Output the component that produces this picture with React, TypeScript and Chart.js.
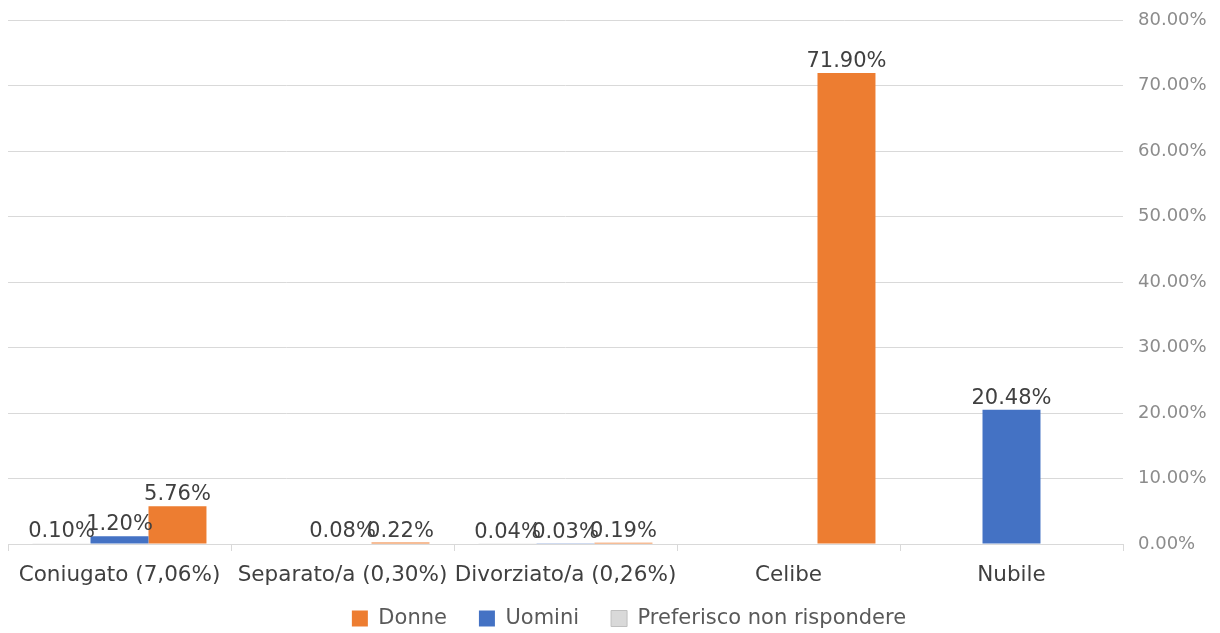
import React, { useEffect, useRef } from 'react';
import { Chart, registerables } from 'chart.js';

Chart.register(...registerables);

const categories = ['Coniugato (7,06%)', 'Separato/a (0,30%)', 'Divorziato/a (0,26%)', 'Celibe', 'Nubile'];
const preferiscoValues: (number | null)[] = [0.1, null, 0.04, null, null];
const uominiValues: (number | null)[] = [1.2, 0.08, 0.03, null, 20.48];
const donneValues: (number | null)[] = [5.76, 0.22, 0.19, 71.9, null];
const yMin = 0;
const yMax = 80;
const yStep = 10;

const FONT = '"DejaVu Sans"';

const valueLabels = {
  id: 'valueLabels',
  afterDatasetsDraw(chart: any) {
    const ctx = chart.ctx;
    ctx.save();
    ctx.font = `21px ${FONT}`;
    ctx.fillStyle = '#404040';
    ctx.textAlign = 'center';
    ctx.textBaseline = 'alphabetic';
    chart.data.datasets.forEach((ds: any, i: number) => {
      const meta = chart.getDatasetMeta(i);
      meta.data.forEach((el: any, j: number) => {
        const v = ds.data[j];
        if (v === null || v === undefined) return;
        ctx.fillText(v.toFixed(2) + '%', el.x, el.y - 6);
      });
    });
    ctx.restore();
  },
};

// let the category labels extend into the (empty) upper part of the legend box
const labelRoom = {
  id: 'labelRoom',
  afterLayout(chart: any) {
    const x = chart.scales.x;
    if (x) x.bottom = chart.height;
  },
};

export default function App() {
  const ref = useRef<HTMLCanvasElement | null>(null);

  useEffect(() => {
    if (!ref.current) return;
    const chart = new Chart(ref.current, {
      type: 'bar',
      data: {
        labels: categories,
        datasets: [
          { label: 'Preferisco non rispondere', data: preferiscoValues, backgroundColor: '#D9D9D9', borderWidth: 0 },
          { label: 'Uomini', data: uominiValues, backgroundColor: '#4472C4', borderWidth: 0 },
          { label: 'Donne', data: donneValues, backgroundColor: '#ED7D31', borderWidth: 0 },
        ],
      },
      options: {
        responsive: false,
        animation: false,
        datasets: { bar: { categoryPercentage: 0.78, barPercentage: 1 } },
        layout: { padding: { left: 8, right: -30, top: 20, bottom: -6 } },
        plugins: {
          tooltip: { enabled: false },
          legend: {
            position: 'bottom',
            reverse: true,
            labels: {
              font: { family: FONT, size: 21 },
              color: '#595959',
              boxWidth: 16,
              boxHeight: 16,
              padding: 32,
              generateLabels: (c: any) => {
                const items = (Chart as any).defaults.plugins.legend.labels.generateLabels(c);
                return items.map((it: any) =>
                  it.text.startsWith('Preferisco') ? { ...it, strokeStyle: '#BFBFBF', lineWidth: 1 } : it
                );
              },
            },
          },
        },
        scales: {
          x: {
            offset: true,
            grid: { display: true, drawOnChartArea: false, drawTicks: true, tickLength: 7, color: '#D9D9D9', offset: true },
            border: { display: true, color: '#D9D9D9' },
            ticks: { font: { family: FONT, size: 21.5 }, color: '#404040', padding: 12, maxRotation: 0, autoSkip: false },
            afterFit: (s: any) => { s.height = 32; },
          },
          y: {
            position: 'right',
            min: yMin,
            max: yMax,
            ticks: {
              stepSize: yStep,
              font: { family: FONT, size: 18 },
              color: '#8C8C8C',
              padding: 15,
              callback: (v: any) => Number(v).toFixed(2) + '%',
            },
            grid: { color: '#D9D9D9', drawTicks: false },
            border: { display: false },
            afterFit: (s: any) => { s.width = 127; s.paddingTop = 0; s.paddingBottom = 0; },
          },
        },
      },
      plugins: [valueLabels, labelRoom],
    });
    return () => chart.destroy();
  }, []);

  return (
    <div style={{ position: 'absolute', left: 0, top: 0, width: 1220, height: 633, background: '#fff' }}>
      <canvas ref={ref} width={1220} height={633} style={{ display: 'block' }} />
    </div>
  );
}
